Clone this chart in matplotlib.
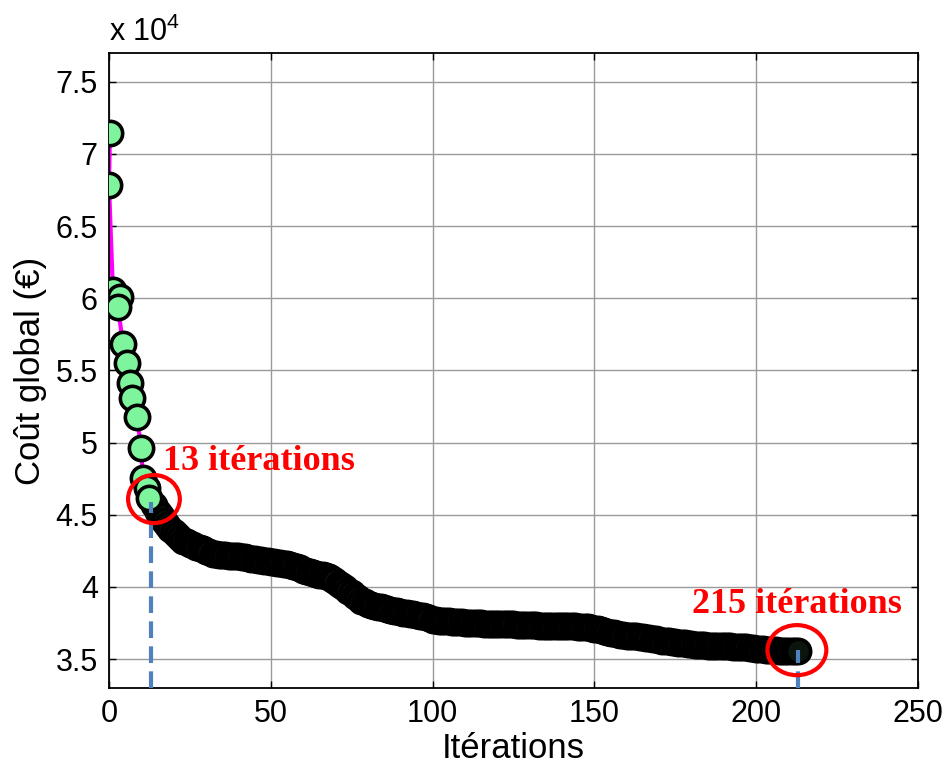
import numpy as np
import matplotlib
matplotlib.use("Agg")
import matplotlib.pyplot as plt
from matplotlib.patches import Ellipse
from matplotlib.ticker import FuncFormatter

plt.rcParams['font.family'] = ['Liberation Sans', 'DejaVu Sans']
plt.rcParams['mathtext.default'] = 'regular'

# early iterations (x, cost in euros)
early_iter = [0.3, 0.0, 1.2, 3.4, 2.8, 4.3, 5.6, 6.5, 7.1, 8.7, 9.9, 10.5, 11.7, 12.4]
early_cost = [71460, 67860, 60580, 60100, 59400, 56840, 55520, 54130, 53090, 51770,
              49630, 47550, 46850, 46160]

# dense iterations 14..213
dense_start = 14
dense_cost = [
    45700, 45200, 44900, 44600, 44300, 44000, 43800, 43600, 43400, 43200,
    43100, 43000, 42900, 42800, 42700, 42600, 42500, 42400, 42300, 42250,
    42200, 42200, 42180, 42160, 42150, 42140, 42130, 42100, 42050, 42000,
    41970, 41930, 41900, 41870, 41830, 41790, 41750, 41720, 41680, 41650,
    41600, 41560, 41520, 41450, 41380, 41300, 41200, 41100, 41040, 40980,
    40920, 40860, 40800, 40750, 40660, 40550, 40400, 40200, 40050, 39900,
    39750, 39600, 39400, 39200, 39050, 38950, 38850, 38770, 38700, 38640,
    38580, 38520, 38450, 38400, 38350, 38300, 38250, 38210, 38180, 38140,
    38100, 38060, 38020, 37980, 37900, 37820, 37740, 37700, 37670, 37650,
    37630, 37610, 37590, 37570, 37550, 37540, 37520, 37510, 37500, 37490,
    37480, 37470, 37460, 37450, 37450, 37440, 37440, 37430, 37430, 37420,
    37410, 37400, 37390, 37380, 37370, 37360, 37350, 37340, 37330, 37320,
    37310, 37310, 37300, 37300, 37290, 37290, 37290, 37280, 37280, 37270,
    37260, 37250, 37230, 37210, 37190, 37160, 37120, 37080, 37030, 36970,
    36900, 36840, 36780, 36730, 36690, 36660, 36630, 36610, 36590, 36570,
    36550, 36520, 36480, 36440, 36400, 36360, 36320, 36280, 36250, 36220,
    36200, 36180, 36150, 36120, 36090, 36060, 36030, 36000, 35980, 35960,
    35950, 35940, 35930, 35920, 35910, 35900, 35900, 35890, 35880, 35870,
    35860, 35850, 35830, 35810, 35780, 35750, 35720, 35700, 35680, 35660,
    35640, 35620, 35600, 35590, 35580, 35570, 35560, 35560, 35550, 35550,
]
dense_iter = list(range(dense_start, dense_start + len(dense_cost)))

annot_labels = ["13 itérations", "215 itérations"]
annot_iter = [13, 213]

x_ticks = [0, 50, 100, 150, 200, 250]
y_ticks = [35000, 40000, 45000, 50000, 55000, 60000, 65000, 70000, 75000]

green = '#7ef59c'

fig = plt.figure(figsize=(9.46, 7.71), dpi=100)
ax = fig.add_axes([0.1152, 0.1077, 0.8551, 0.8236])

all_iter = early_iter + dense_iter
all_cost = early_cost + dense_cost
ax.plot(all_iter, all_cost, color='#ff00ff', lw=3, zorder=2)
ax.plot(dense_iter, dense_cost, ls='none', marker='o', ms=17.5,
        mfc='#0b140d', mec='black', mew=2.6, zorder=3)
ax.plot(early_iter, early_cost, ls='none', marker='o', ms=17.5,
        mfc=green, mec='black', mew=2.6, zorder=4)

# annotations
ax.plot([annot_iter[0], annot_iter[0]], [33000, 45900], color='#4f81bd', lw=3,
        dashes=(4, 2), zorder=5)
ax.plot([annot_iter[1], annot_iter[1]], [33000, 35650], color='#4f81bd', lw=3,
        dashes=(4, 2), zorder=5)
ax.add_patch(Ellipse((13.9, 46090), 16.0, 3330, fill=False, ec='red', lw=3, zorder=6))
ax.add_patch(Ellipse((212.6, 35620), 18.2, 3470, fill=False, ec='red', lw=3, zorder=6))
ax.text(16.8, 48100, annot_labels[0], color='red', fontsize=26, fontweight='bold',
        family='Liberation Serif', ha='left', va='baseline', zorder=7)
ax.text(180.2, 38190, annot_labels[1], color='red', fontsize=26, fontweight='bold',
        family='Liberation Serif', ha='left', va='baseline', zorder=7)

ax.set_xlim(0, 250)
ax.set_ylim(33000, 77000)
ax.set_xticks(x_ticks)
ax.set_yticks(y_ticks)
ax.yaxis.set_major_formatter(FuncFormatter(lambda v, p: f"{v/1e4:g}"))
ax.grid(True, color='#9a9a9a', lw=1.0)
ax.set_axisbelow(True)
ax.tick_params(direction='in', length=5, width=1, labelsize=22, top=True, right=True,
               pad=8)
for s in ax.spines.values():
    s.set_linewidth(1.3)

ax.set_xlabel('Itérations', fontsize=25, labelpad=2)
ax.set_ylabel('Coût global (€)', fontsize=25, labelpad=6)
ax.text(0.0, 1.008, 'x 10$^{4}$', transform=ax.transAxes, fontsize=22,
        ha='left', va='bottom')

fig.savefig('out.png', dpi=100)
